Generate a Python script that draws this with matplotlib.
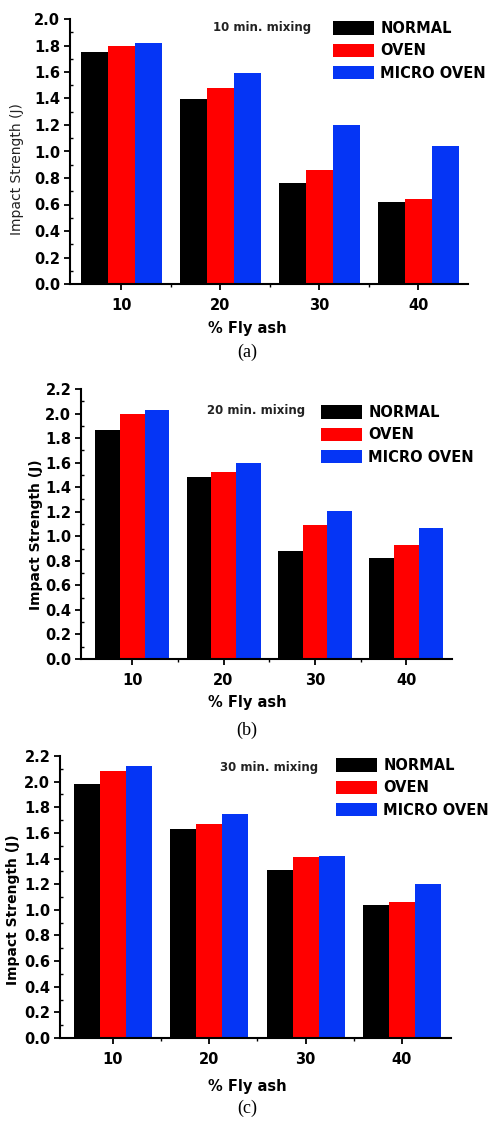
import numpy as np
import matplotlib
matplotlib.use("Agg")
import matplotlib.pyplot as plt
from matplotlib.ticker import MultipleLocator, FixedLocator

# data
fly_ash = ["10", "20", "30", "40"]
series = ["NORMAL", "OVEN", "MICRO OVEN"]
colors = ["#000000", "#ff0000", "#0535f5"]

normal_10 = [1.75, 1.40, 0.76, 0.62]
oven_10 = [1.80, 1.48, 0.86, 0.64]
micro_10 = [1.82, 1.59, 1.20, 1.04]

normal_20 = [1.87, 1.48, 0.88, 0.82]
oven_20 = [2.00, 1.52, 1.09, 0.93]
micro_20 = [2.03, 1.60, 1.21, 1.07]

normal_30 = [1.98, 1.63, 1.31, 1.04]
oven_30 = [2.08, 1.67, 1.41, 1.06]
micro_30 = [2.12, 1.75, 1.42, 1.20]

W, H = 495, 1122
fig = plt.figure(figsize=(W / 100, H / 100), dpi=100)
fig.patch.set_facecolor("white")


def fx(x):
    return x / W


def fy(y):
    return 1 - y / H


def panel(box, ylim, xlim, data, mix_text, mix_pos, leg_pos, ylab_pos, xlab_y, cap, cap_y, ylab_bold):
    left, right, top, bottom = box
    ax = fig.add_axes([fx(left), fy(bottom), (right - left) / W, (bottom - top) / H])
    x = np.arange(len(fly_ash))
    w = 0.27
    for i, vals in enumerate(data):
        ax.bar(x + (i - 1) * w, vals, w, color=colors[i], label=series[i], linewidth=0)
    ax.set_xlim(*xlim)
    ax.set_ylim(*ylim)
    ax.spines["top"].set_visible(False)
    ax.spines["right"].set_visible(False)
    for s in ["left", "bottom"]:
        ax.spines[s].set_linewidth(1.5)
    ax.set_xticks(x)
    ax.set_xticklabels(fly_ash)
    ax.xaxis.set_minor_locator(FixedLocator([0.5, 1.5, 2.5]))
    ax.yaxis.set_major_locator(MultipleLocator(0.2))
    ax.yaxis.set_minor_locator(MultipleLocator(0.1))
    ax.yaxis.set_major_formatter(plt.FormatStrFormatter("%.1f"))
    ax.tick_params(which="major", direction="out", length=4, width=1.3, labelsize=10.5, pad=3)
    ax.tick_params(axis="x", which="major", pad=6)
    ax.tick_params(axis="y", which="minor", direction="in", length=2.5, width=1)
    ax.tick_params(axis="x", which="minor", direction="out", length=2.5, width=1)
    for lab in ax.get_xticklabels() + ax.get_yticklabels():
        lab.set_fontweight("bold")

    fig.text(fx(ylab_pos[0]), fy(ylab_pos[1]), "Impact Strength (J)", rotation=90,
             ha="center", va="center", fontsize=10,
             fontweight="bold" if ylab_bold else "normal",
             color="#222222" if not ylab_bold else "black")
    fig.text(fx(mix_pos[0]), fy(mix_pos[1]), mix_text, ha="left", va="center",
             fontsize=8.5, fontweight="bold", color="#222222")
    fig.text(fx(247), fy(xlab_y), "% Fly ash", ha="center", va="center",
             fontsize=10.5, fontweight="bold")
    fig.text(fx(247), fy(cap_y), cap, ha="center", va="center",
             fontsize=13, family="Liberation Serif")

    ax.legend(loc="upper left", bbox_to_anchor=(fx(leg_pos[0]), fy(leg_pos[1])),
              bbox_transform=fig.transFigure, frameon=False, borderpad=0,
              borderaxespad=0, handlelength=2.8, handleheight=1.0,
              labelspacing=0.5, handletextpad=0.45,
              prop={"weight": "bold", "size": 10.5})
    return ax


panel((70, 468, 19, 284), (0, 2.0), (-0.52, 3.5),
      [normal_10, oven_10, micro_10], "10 min. mixing", (213, 28),
      (333, 21), (17, 169), 328, "(a)", 352, False)

panel((81, 452, 389, 659), (0, 2.2), (-0.56, 3.5),
      [normal_20, oven_20, micro_20], "20 min. mixing", (207, 410),
      (321, 405), (36, 535), 703, "(b)", 730, True)

panel((60, 451, 756, 1038), (0, 2.2), (-0.55, 3.51),
      [normal_30, oven_30, micro_30], "30 min. mixing", (220, 767),
      (336, 758), (13, 910), 1087, "(c)", 1108, True)

fig.savefig("out.png", dpi=100)
